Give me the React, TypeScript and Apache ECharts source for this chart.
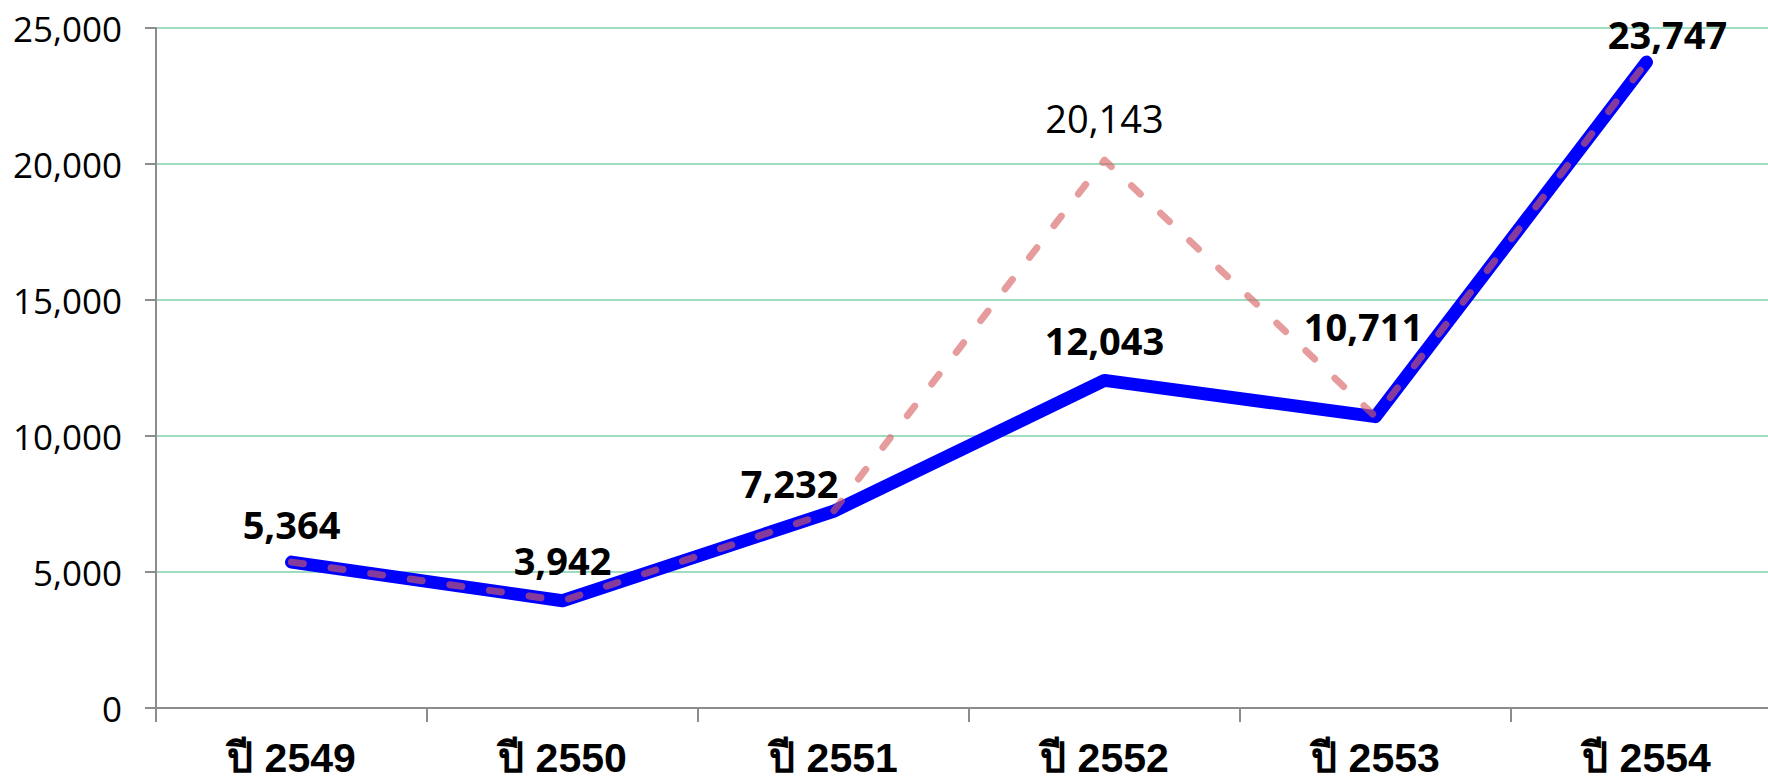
import React, { useEffect, useRef } from "react";
import * as echarts from "echarts";

const categories = ["ปี 2549", "ปี 2550", "ปี 2551", "ปี 2552", "ปี 2553", "ปี 2554"];
const actualValues = [5364, 3942, 7232, 12043, 10711, 23747];
const targetValues = [5364, 3942, 7232, 20143, 10711, 23747];
const yTicks = { min: 0, max: 25000, interval: 5000 };
// label offsets for manually placed labels (dx, dy) relative to default "top"
const actualLabelOffsets: [number, number][] = [[0, 2], [0, 0], [-44, 12], [0, 0], [-12, -50], [21, 12]];

const fmt = (v: number) => v.toLocaleString("en-US");

export default function App() {
  const ref = useRef<HTMLDivElement>(null);
  useEffect(() => {
    if (!ref.current) return;
    const chart = echarts.init(ref.current, undefined, { renderer: "svg" });
    const font = "'Open Sans', 'DejaVu Sans', sans-serif";
    chart.setOption({
      animation: false,
      backgroundColor: "#ffffff",
      grid: { left: 156, right: 0, top: 28, bottom: 72, containLabel: false },
      xAxis: {
        type: "category",
        data: categories,
        boundaryGap: true,
        axisLine: { lineStyle: { color: "#8c8c8c", width: 2 } },
        axisTick: { show: true, length: 14, lineStyle: { color: "#8c8c8c", width: 2 } },
        axisLabel: {
          margin: 29,
          fontSize: 41,
          fontWeight: "bold",
          color: "#000",
          fontFamily: "'Liberation Sans', 'DejaVu Sans', 'Noto Sans', sans-serif",
        },
      },
      yAxis: {
        type: "value",
        min: yTicks.min,
        max: yTicks.max,
        interval: yTicks.interval,
        axisLine: { show: true, lineStyle: { color: "#8c8c8c", width: 2 } },
        axisTick: { show: true, length: 11, lineStyle: { color: "#8c8c8c", width: 2 } },
        splitLine: { show: true, lineStyle: { color: "#9fdcc2", width: 2 } },
        axisLabel: {
          margin: 34,
          fontSize: 35,
          color: "#000",
          fontFamily: font,
          formatter: (v: number) => fmt(v),
        },
      },
      series: [
        {
          type: "line",
          data: actualValues.map((v, i) => ({
            value: v,
            label: { offset: actualLabelOffsets[i] },
          })),
          symbol: "circle",
          symbolSize: 1,
          showSymbol: true,
          itemStyle: { color: "rgba(0,0,255,0)" },
          z: 2,
          lineStyle: { color: "#0000ff", width: 13, cap: "round", join: "round" },
          label: {
            show: true,
            position: "top",
            distance: 21,
            fontSize: 38,
            fontWeight: "bold",
            color: "#000",
            fontFamily: font,
            formatter: (p: any) => fmt(p.value),
          },
        },
        {
          type: "line",
          data: targetValues.map((v, i) => ({
            value: v,
            label: { show: v !== actualValues[i] },
          })),
          symbol: "circle",
          symbolSize: 1,
          showSymbol: true,
          itemStyle: { color: "rgba(214,96,96,0)" },
          z: 3,
          lineStyle: {
            color: "rgba(214, 96, 96, 0.62)",
            width: 7,
            type: [12, 28],
            cap: "round",
            join: "round",
          },
          label: {
            show: false,
            position: "top",
            distance: 23,
            fontSize: 38,
            color: "#000",
            fontFamily: font,
            formatter: (p: any) => fmt(p.value),
          },
        },
      ],
    });
    return () => chart.dispose();
  }, []);
  return (
    <div style={{ position: "absolute", left: 0, top: 0, width: 1768, height: 780, overflow: "hidden", background: "#fff" }}>
      <div ref={ref} style={{ width: 1782, height: 780 }} />
    </div>
  );
}
